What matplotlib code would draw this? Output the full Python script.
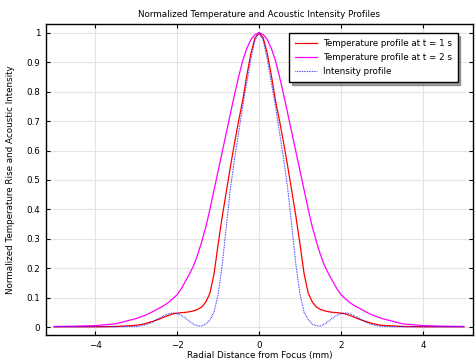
import matplotlib
matplotlib.use("Agg")
from matplotlib import pyplot as plt
from matplotlib.ticker import FuncFormatter

# radial positions (mm)
r = [-5.0, -4.5, -4.0, -3.5, -3.0, -2.9, -2.8, -2.7, -2.6, -2.5, -2.4, -2.3,
     -2.2, -2.1, -2.0, -1.9, -1.8, -1.7, -1.6, -1.5, -1.4, -1.3, -1.2, -1.1,
     -1.0, -0.9, -0.8, -0.7, -0.6, -0.5, -0.4, -0.3, -0.2, -0.1, 0.0,
     0.1, 0.2, 0.3, 0.4, 0.5, 0.6, 0.7, 0.8, 0.9, 1.0, 1.1, 1.2, 1.3, 1.4,
     1.5, 1.6, 1.7, 1.8, 1.9, 2.0, 2.1, 2.2, 2.3, 2.4, 2.5, 2.6, 2.7, 2.8,
     2.9, 3.0, 3.5, 4.0, 4.5, 5.0]

temp_1s = [0.001, 0.001, 0.001, 0.002, 0.006, 0.008, 0.011, 0.015, 0.019,
           0.024, 0.029, 0.035, 0.040, 0.045, 0.047, 0.049, 0.050, 0.052,
           0.055, 0.060, 0.068, 0.085, 0.115, 0.18, 0.28, 0.375, 0.46, 0.545,
           0.625, 0.70, 0.77, 0.855, 0.93, 0.983, 1.0,
           0.983, 0.93, 0.855, 0.77, 0.70, 0.625, 0.545, 0.46, 0.375, 0.28,
           0.18, 0.115, 0.085, 0.068, 0.060, 0.055, 0.052, 0.050, 0.049,
           0.047, 0.045, 0.040, 0.035, 0.029, 0.024, 0.019, 0.015, 0.011,
           0.008, 0.006, 0.002, 0.001, 0.001, 0.001]

temp_2s = [0.002, 0.003, 0.005, 0.011, 0.029, 0.034, 0.039, 0.045, 0.052,
           0.060, 0.067, 0.075, 0.085, 0.097, 0.11, 0.13, 0.155, 0.18, 0.208,
           0.245, 0.29, 0.34, 0.40, 0.465, 0.53, 0.595, 0.66, 0.725,
           0.79, 0.85, 0.905, 0.947, 0.977, 0.994, 1.0,
           0.994, 0.977, 0.947, 0.905, 0.85, 0.79, 0.725, 0.66, 0.595, 0.53,
           0.465, 0.40, 0.34, 0.29, 0.245, 0.208, 0.18, 0.155, 0.13, 0.11,
           0.097, 0.085, 0.075, 0.067, 0.060, 0.052, 0.045, 0.039, 0.034,
           0.029, 0.011, 0.005, 0.003, 0.002]

intensity = [0.001, 0.001, 0.001, 0.001, 0.002, 0.004, 0.007, 0.011, 0.017,
             0.025, 0.033, 0.040, 0.046, 0.048, 0.046, 0.040, 0.031, 0.020,
             0.010, 0.004, 0.004, 0.010, 0.025, 0.05, 0.11, 0.21, 0.34, 0.47,
             0.57, 0.66, 0.75, 0.83, 0.91, 0.975, 1.0,
             0.975, 0.91, 0.83, 0.75, 0.66, 0.57, 0.47, 0.34, 0.21, 0.11,
             0.05, 0.025, 0.010, 0.004, 0.004, 0.010, 0.020, 0.031, 0.040,
             0.046, 0.048, 0.046, 0.040, 0.033, 0.025, 0.017, 0.011, 0.007,
             0.004, 0.002, 0.001, 0.001, 0.001, 0.001]

plt.rcParams["font.family"] = "DejaVu Sans"
plt.rcParams["font.size"] = 6

fig = plt.figure(figsize=(4.77, 3.63), dpi=100)
ax = fig.add_axes([0.0964, 0.0771, 0.8952, 0.8568])

ax.plot(r, temp_1s, "-", color="red", lw=0.9, label="Temperature profile at t = 1 s")
ax.plot(r, temp_2s, "-", color="magenta", lw=0.9, label="Temperature profile at t = 2 s")
ax.plot(r, intensity, color="blue", lw=0.8, dashes=(0.6, 0.9),
        label="Intensity profile")

ax.set_xlim(-5.2, 5.22)
ax.set_ylim(-0.027, 1.03)
ax.set_xticks([-4, -2, 0, 2, 4])
ax.set_yticks([i * 0.1 for i in range(11)])
ax.yaxis.set_major_formatter(FuncFormatter(lambda v, p: "{0:g}".format(round(v, 1))))
ax.tick_params(direction="in", top=True, right=True, length=3, width=0.8,
               labelsize=6.3, pad=4)
ax.grid(True, color="#e4e4e4", lw=0.8)
ax.set_axisbelow(True)
for s in ax.spines.values():
    s.set_linewidth(1.0)

ax.set_title("Normalized Temperature and Acoustic Intensity Profiles", fontsize=6.3, pad=5)
ax.set_xlabel("Radial Distance from Focus (mm)", fontsize=6.3, labelpad=1)
ax.set_ylabel("Normalized Temperature Rise and Acoustic Intensity", fontsize=6.3, labelpad=8)

leg = ax.legend(loc="upper right", bbox_to_anchor=(0.974, 0.985), fancybox=False,
                shadow=True, edgecolor="black", framealpha=1, fontsize=6.3,
                handlelength=2.5, handletextpad=0.7, borderpad=0.65,
                labelspacing=0.6)
leg.get_frame().set_linewidth(1.0)

plt.savefig("out.png", dpi=100)
